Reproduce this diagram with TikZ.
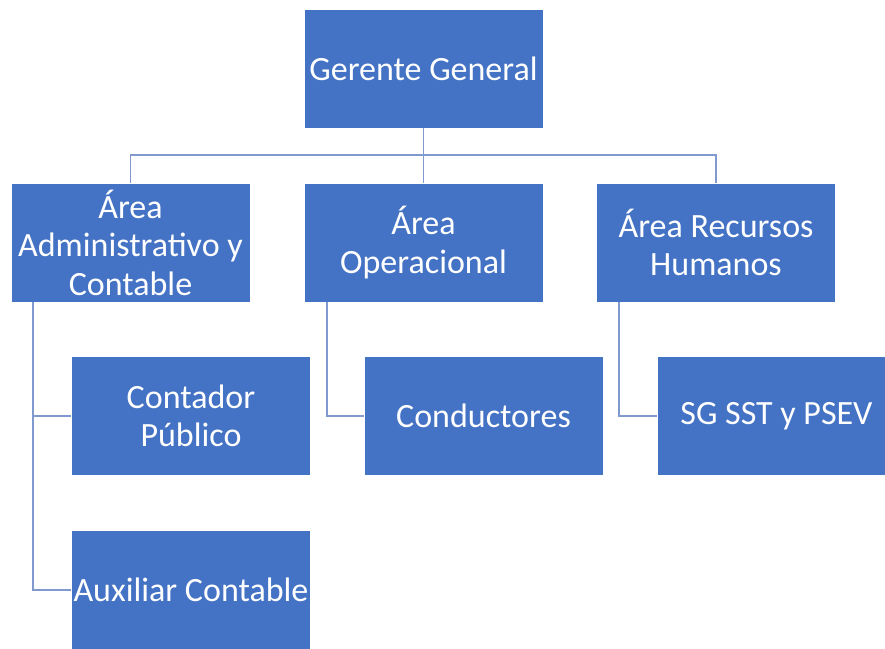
\documentclass[tikz,border=0pt]{standalone}
\usepackage{fontspec}
\setmainfont{Carlito}
\definecolor{boxblue}{HTML}{4472C4}
\definecolor{linecol}{HTML}{8099CF}
\tikzset{
  orgbox/.style={rectangle, fill=boxblue, draw=white, line width=0.8pt,
    minimum width=239pt, minimum height=119pt, inner sep=0pt,
    text=white, align=center, font=\fontsize{34}{38.5}\selectfont},
  conn/.style={draw=linecol, line width=1.8pt}
}
\begin{document}
\begin{tikzpicture}[x=1pt,y=-1pt]
\useasboundingbox (0,0) rectangle (885,648);
\node[orgbox] (g) at (423.5,68.5) {Gerente General};
\node[orgbox] (a) at (130.5,242.5) {Área\\Administrativo y\\Contable};
\node[orgbox] (o) at (423.5,242.5) {Área\\Operacional};
\node[orgbox] (r) at (716,242.5) {Área Recursos\\Humanos};
\node[orgbox] (c) at (191,416) {Contador\\Público};
\node[orgbox] (d) at (483.5,416) {Conductores};
\node[orgbox] (s) at (776.5,416) {SG SST y PSEV};
\node[orgbox] (x) at (191,590) {Auxiliar Contable};
\coordinate (bus) at (423.5,155);
\coordinate (aL) at (33,302);
\coordinate (oL) at (327,302);
\coordinate (rL) at (619,302);
\draw[conn] (g.south) -- (o.north);
\draw[conn] (bus) -| (a.north);
\draw[conn] (bus) -| (r.north);
\draw[conn] (aL) |- (c.west);
\draw[conn] (aL) |- (x.west);
\draw[conn] (oL) |- (d.west);
\draw[conn] (rL) |- (s.west);
\end{tikzpicture}
\end{document}
